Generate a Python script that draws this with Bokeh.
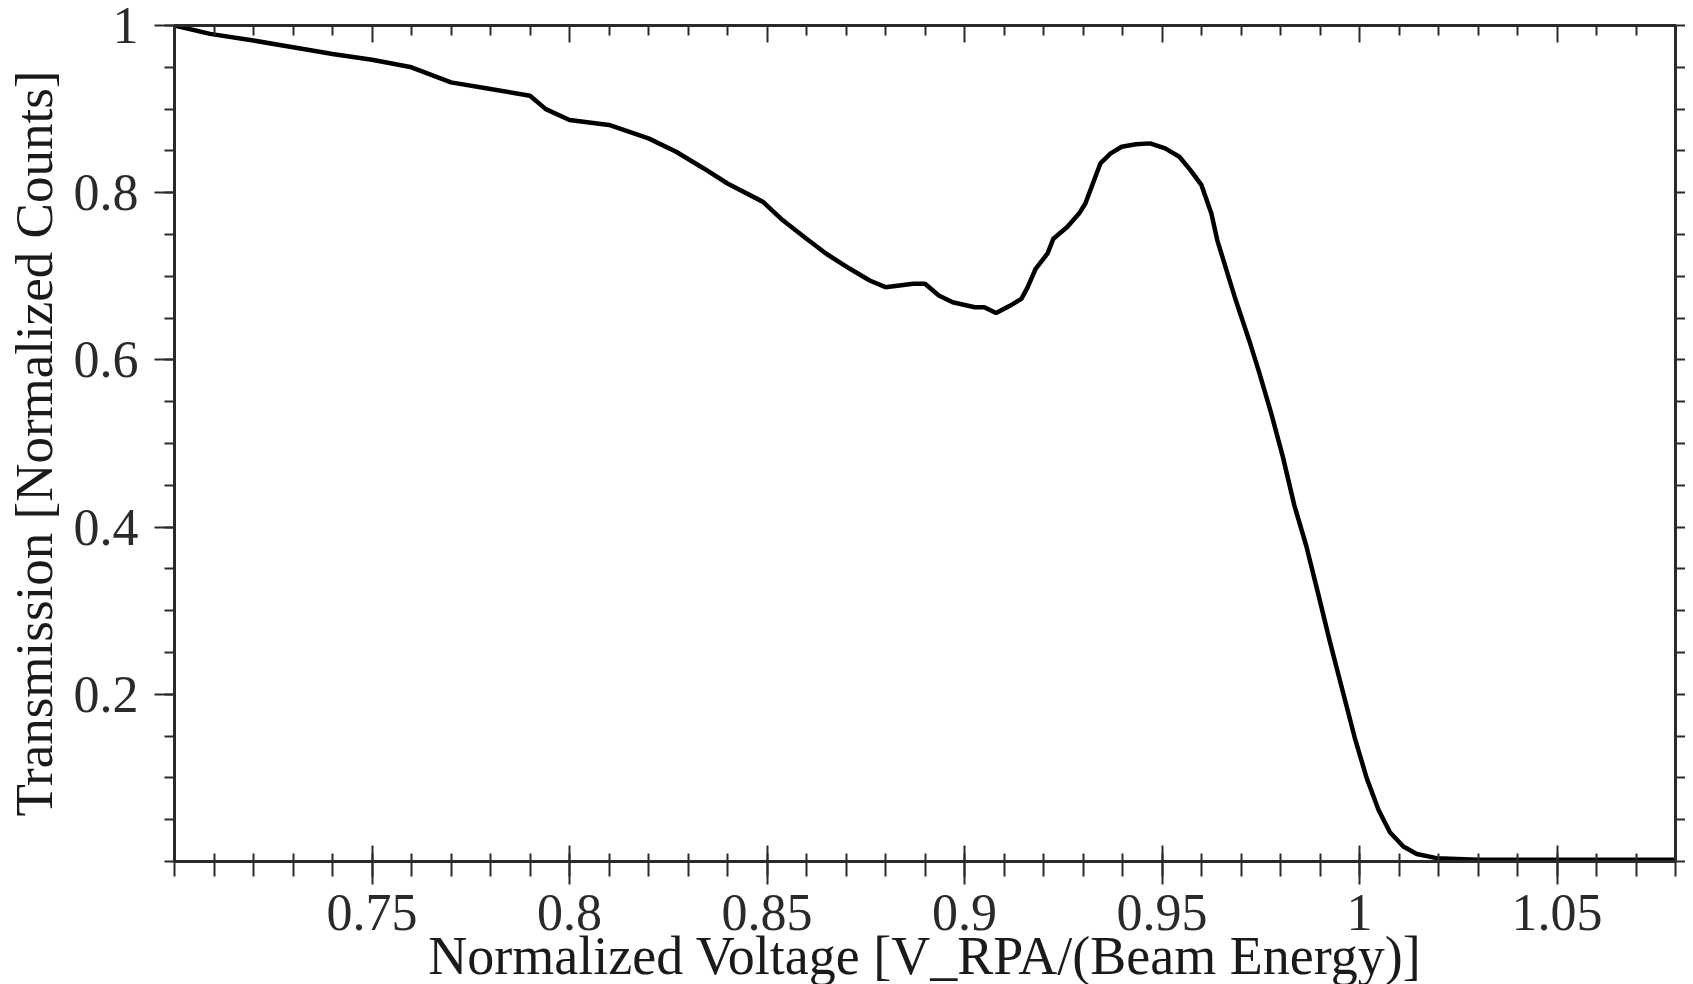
from bokeh.plotting import figure
from bokeh.models import Range1d, FixedTicker, LinearAxis
from bokeh.embed import file_html
from bokeh.resources import INLINE

# --- data ---
voltage = [0.700, 0.709, 0.720, 0.730, 0.740, 0.750, 0.760, 0.770, 0.780, 0.790,
           0.794, 0.800, 0.810, 0.820, 0.827, 0.834, 0.840, 0.849, 0.854, 0.860,
           0.865, 0.871, 0.876, 0.880, 0.887, 0.890, 0.8935, 0.897, 0.9026, 0.905,
           0.908, 0.9116, 0.9144, 0.916, 0.918, 0.921, 0.9225, 0.926, 0.929, 0.9306,
           0.9325, 0.9344, 0.937, 0.9398, 0.9434, 0.947, 0.9508, 0.9544, 0.9572, 0.960,
           0.9625, 0.964, 0.9687, 0.9721, 0.9746, 0.9776, 0.9806, 0.9835, 0.9865, 0.9895,
           0.9925, 0.9959, 0.9988, 1.0018, 1.0048, 1.0077, 1.0111, 1.0145, 1.0195, 1.030,
           1.050, 1.080]
transmission = [1.000, 0.990, 0.982, 0.974, 0.966, 0.959, 0.950, 0.932, 0.924, 0.916,
                0.900, 0.887, 0.881, 0.865, 0.849, 0.829, 0.811, 0.789, 0.767, 0.745,
                0.727, 0.709, 0.695, 0.687, 0.691, 0.691, 0.677, 0.669, 0.663, 0.663,
                0.656, 0.665, 0.673, 0.687, 0.709, 0.727, 0.745, 0.759, 0.775, 0.787,
                0.811, 0.835, 0.847, 0.855, 0.858, 0.859, 0.853, 0.843, 0.827, 0.809,
                0.775, 0.743, 0.671, 0.623, 0.585, 0.537, 0.484, 0.426, 0.378, 0.321,
                0.263, 0.201, 0.148, 0.100, 0.062, 0.035, 0.018, 0.009, 0.004, 0.002,
                0.002, 0.002]

x_major = [0.75, 0.8, 0.85, 0.9, 0.95, 1.0, 1.05]
x_minor = [round(0.70 + 0.01 * i, 2) for i in range(39)]
x_minor_only = [v for v in x_minor if all(abs(v - m) > 1e-9 for m in x_major)]
y_major = [0.2, 0.4, 0.6, 0.8, 1.0]
y_minor = [round(0.05 * i, 2) for i in range(21)]
x_label_overrides = {0.75: "0.75", 0.8: "0.8", 0.85: "0.85", 0.9: "0.9",
                     0.95: "0.95", 1.0: "1", 1.05: "1.05"}
y_label_overrides = {0.2: "0.2", 0.4: "0.4", 0.6: "0.6", 0.8: "0.8", 1.0: "1"}

FONT = "Liberation Serif"
AX = "#2a2a2a"

p = figure(output_backend="svg", toolbar_location=None,
           frame_width=1501, frame_height=836,
           min_border_left=174, min_border_top=25, min_border_right=10,
           min_border_bottom=120,
           x_range=Range1d(0.70, 1.08), y_range=Range1d(0.0, 1.0),
           x_axis_label="Normalized Voltage [V_RPA/(Beam Energy)]",
           y_axis_label="Transmission [Normalized Counts]",
           background_fill_color="white", border_fill_color="white")
p.grid.visible = False
p.outline_line_color = AX
p.outline_line_width = 3

p.line(voltage, transmission, line_color="black", line_width=4.5)

def style(ax):
    ax.axis_line_color = AX
    ax.axis_line_width = 3
    ax.major_tick_line_color = AX
    ax.minor_tick_line_color = AX
    ax.major_tick_line_width = 2
    ax.minor_tick_line_width = 2
    ax.major_label_text_font = FONT
    ax.major_label_text_font_size = "52px"
    ax.major_label_text_color = "#2a2a2a"
    ax.axis_label_text_font = FONT
    ax.axis_label_text_font_size = "54px"
    ax.axis_label_text_font_style = "normal"
    ax.axis_label_text_color = "#1a1a1a"

xa = p.xaxis[0]
style(xa)
xa.ticker = FixedTicker(ticks=x_major, minor_ticks=x_minor)
xa.major_label_overrides = x_label_overrides
xa.major_tick_in = 16
xa.major_tick_out = 23
xa.minor_tick_in = 8
xa.minor_tick_out = 15
xa.major_label_standoff = 10
xa.axis_label_standoff = -7

ya = p.yaxis[0]
style(ya)
ya.ticker = FixedTicker(ticks=y_major, minor_ticks=y_minor)
ya.major_label_overrides = y_label_overrides
ya.axis_label_text_font_size = "53px"
ya.major_tick_in = 0
ya.major_tick_out = 20
ya.minor_tick_in = 0
ya.minor_tick_out = 10
ya.major_label_standoff = 16
ya.axis_label_standoff = 8

# top frame ticks (inward, no labels): short ones, then long ones at the major positions
top_minor = LinearAxis(ticker=FixedTicker(ticks=[], minor_ticks=x_minor_only))
style(top_minor)
top_minor.major_tick_in = 0
top_minor.major_tick_out = 0
top_minor.minor_tick_in = 10
top_minor.minor_tick_out = 0
p.add_layout(top_minor, "above")

top_major = LinearAxis(ticker=FixedTicker(ticks=[], minor_ticks=x_major))
style(top_major)
top_major.major_tick_in = 0
top_major.major_tick_out = 0
top_major.minor_tick_in = 17
top_major.minor_tick_out = 0
p.add_layout(top_major, "above")

# right frame ticks (outward, no labels)
right = LinearAxis(ticker=FixedTicker(ticks=[], minor_ticks=y_minor))
style(right)
right.major_tick_in = 0
right.major_tick_out = 0
right.minor_tick_in = 0
right.minor_tick_out = 10
p.add_layout(right, "right")

open("out.html", "w").write(file_html(p, INLINE))
